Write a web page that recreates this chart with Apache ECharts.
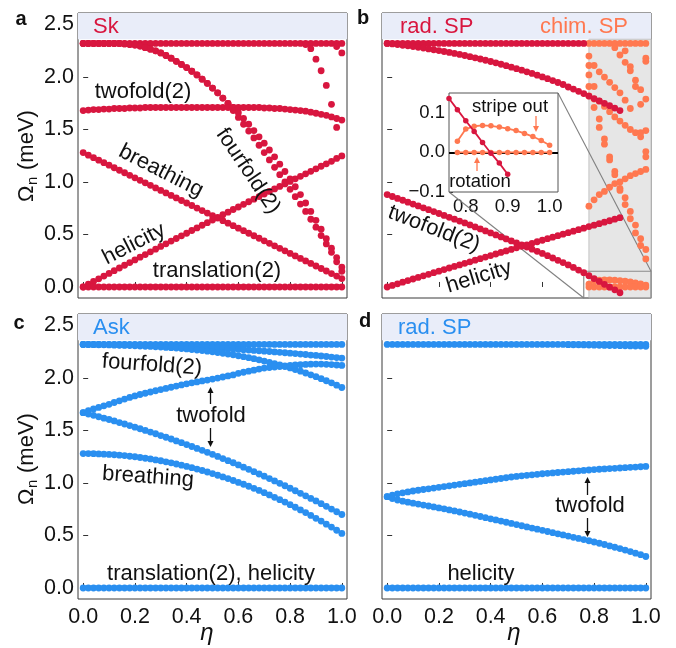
<!DOCTYPE html>
<html><head><meta charset="utf-8">
<script src="https://cdn.jsdelivr.net/npm/echarts@6/dist/echarts.min.js"></script>
<style>html,body{margin:0;padding:0;background:#fff}#c{width:676px;height:648px}</style>
</head><body><div id="c"></div>
<script>
// ---------- data ----------
const eta = [0,0.02,0.04,0.06,0.08,0.1,0.12,0.14,0.16,0.18,0.2,0.22,0.24,0.26,0.28,0.3,0.32,0.34,0.36,0.38,0.4,0.42,0.44,0.46,0.48,0.5,0.52,0.54,0.56,0.58,0.6,0.62,0.64,0.66,0.68,0.7,0.72,0.74,0.76,0.78,0.8,0.82,0.84,0.86,0.88,0.9,0.92,0.94,0.96,0.98,1.0];
const etaChim = [0.78,0.8,0.82,0.84,0.86,0.88,0.9,0.92,0.94,0.96,0.98,1.0];
const etaD = [0.7,0.72,0.74,0.76,0.78,0.8,0.82,0.84,0.86,0.88,0.9,0.92,0.94,0.96,0.98,1.0];
const xTicks = [0,0.2,0.4,0.6,0.8,1.0];
const xMinor = [0.1,0.3,0.5,0.7,0.9];
const yTicks = [0,0.5,1.0,1.5,2.0,2.5];
const insetXTicks = [0.8,0.9,1.0];
const insetXMinor = [0.85,0.95];
const insetYTicks = [-0.1,0,0.1];

const topLine = [2.32,2.32,2.32,2.32,2.32,2.32,2.32,2.32,2.32,2.32,2.32,2.32,2.32,2.32,2.32,2.32,2.32,2.32,2.32,2.32,2.32,2.32,2.32,2.32,2.32,2.32,2.32,2.32,2.32,2.32,2.32,2.32,2.32,2.32,2.32,2.32,2.32,2.32,2.32,2.32,2.32,2.32,2.32,2.32,2.32,2.32,2.32,2.32,2.32,2.32,2.32];
const zeroLine = [0,0,0,0,0,0,0,0,0,0,0,0,0,0,0,0,0,0,0,0,0,0,0,0,0,0,0,0,0,0,0,0,0,0,0,0,0,0,0,0,0,0,0,0,0,0,0,0,0,0,0];

// panel a (Sk)
const aFourA = [2.32,2.32,2.32,2.32,2.32,2.32,2.32,2.32,2.315,2.31,2.305,2.295,2.28,2.265,2.25,2.23,2.205,2.18,2.15,2.12,2.09,2.055,2.02,1.98,1.94,1.895,1.85,1.80,1.75,1.68,1.615,1.55,1.485,1.42,1.35,1.28,1.21,1.14,1.07,1.0,0.93,0.86,0.79,0.72,0.645,0.57,0.49,0.41,0.33,0.24,0.15];
const aFourB = [2.32,2.32,2.32,2.32,2.32,2.32,2.32,2.32,2.315,2.31,2.305,2.295,2.28,2.265,2.25,2.23,2.205,2.18,2.15,2.12,2.09,2.055,2.02,1.98,1.94,1.895,1.85,1.80,1.75,1.71,1.66,1.605,1.55,1.49,1.43,1.37,1.305,1.24,1.17,1.10,1.03,0.955,0.88,0.80,0.72,0.635,0.55,0.46,0.37,0.28,0.19];
const aSteepEta = [0.86,0.88,0.9,0.92,0.94,0.96,0.98,0.98,1.0];
const aSteep = [2.31,2.27,2.17,2.06,1.92,1.74,1.52,2.29,2.23];
const aTwo = [1.68,1.685,1.69,1.69,1.695,1.695,1.70,1.70,1.70,1.705,1.705,1.705,1.71,1.71,1.71,1.71,1.71,1.71,1.71,1.71,1.71,1.71,1.71,1.71,1.71,1.71,1.71,1.71,1.71,1.71,1.71,1.71,1.71,1.71,1.71,1.705,1.705,1.70,1.70,1.695,1.69,1.685,1.68,1.675,1.665,1.655,1.645,1.635,1.62,1.605,1.59];
const aBreath = [1.28,1.256,1.232,1.208,1.184,1.16,1.136,1.112,1.088,1.064,1.04,1.016,0.992,0.968,0.944,0.92,0.896,0.872,0.848,0.824,0.80,0.776,0.752,0.728,0.704,0.68,0.656,0.632,0.608,0.584,0.56,0.536,0.512,0.488,0.464,0.44,0.416,0.392,0.368,0.344,0.32,0.296,0.272,0.248,0.224,0.20,0.176,0.152,0.128,0.104,0.08];
const aHel = [0,0.026,0.052,0.078,0.104,0.129,0.155,0.181,0.207,0.232,0.258,0.284,0.309,0.335,0.36,0.386,0.411,0.437,0.462,0.487,0.512,0.538,0.563,0.588,0.613,0.638,0.663,0.688,0.713,0.738,0.762,0.787,0.812,0.836,0.861,0.885,0.91,0.934,0.958,0.982,1.006,1.03,1.054,1.078,1.102,1.126,1.15,1.173,1.197,1.225,1.248];

// panel b (rad. SP, chim. SP)
const bDesc = [2.32,2.315,2.309,2.303,2.297,2.29,2.283,2.276,2.268,2.26,2.252,2.243,2.234,2.225,2.215,2.205,2.194,2.183,2.172,2.16,2.148,2.135,2.122,2.108,2.094,2.08,2.065,2.05,2.034,2.018,2.001,1.984,1.966,1.948,1.929,1.905,1.885,1.864,1.842,1.819,1.795,1.772,1.75,1.727,1.704,1.68];
const bTwo = [0.88,0.862,0.844,0.826,0.808,0.79,0.772,0.754,0.736,0.718,0.70,0.682,0.664,0.646,0.628,0.61,0.591,0.572,0.553,0.534,0.515,0.496,0.477,0.458,0.439,0.42,0.40,0.38,0.36,0.34,0.32,0.298,0.276,0.254,0.232,0.21,0.186,0.161,0.136,0.108,0.08,0.053,0.025,-0.002,-0.027,-0.055];
const bHel = [0,0.015,0.03,0.046,0.061,0.076,0.091,0.106,0.121,0.136,0.151,0.166,0.181,0.196,0.21,0.225,0.24,0.255,0.27,0.285,0.299,0.314,0.329,0.343,0.358,0.373,0.387,0.402,0.416,0.431,0.445,0.46,0.474,0.489,0.503,0.517,0.532,0.546,0.56,0.575,0.589,0.603,0.617,0.631,0.646,0.66];
const chimTop = [2.32,2.32,2.32,2.32,2.32,2.32,2.32,2.32,2.32,2.32,2.32,2.32];
const chimStripe = [0.028,0.059,0.066,0.068,0.067,0.064,0.06,0.055,0.048,0.04,0.03,0.018];
const chimRot = [0,0,0,0,0,0,0,0,0,0,0,0];
const chimUpper = [[0.78,2.20],[0.78,2.11],[0.80,2.11],[0.78,2.02],[0.78,1.91],[0.80,1.91],[0.82,2.05],[0.84,2.00],[0.86,1.95],[0.88,1.90],[0.90,1.85],[0.92,1.78],[0.94,1.70],[0.88,2.28],[0.90,2.21],[0.92,2.25],[0.92,2.14],[0.94,2.10],[0.94,2.06],[0.96,1.97],[0.96,1.91],[0.98,1.88],[1.0,2.18],[1.0,2.15],[1.0,1.79],[0.98,1.74]];
const chimMiddle = [[0.78,1.82],[0.80,1.79],[0.82,1.77],[0.84,1.72],[0.86,1.67],[0.88,1.62],[0.90,1.58],[0.92,1.54],[0.94,1.50],[0.96,1.47],[0.98,1.47],[1.0,1.49],[0.98,1.43],[0.80,1.71],[0.82,1.60],[0.82,1.52],[0.84,1.41],[0.84,1.36],[0.86,1.24],[0.86,1.21],[1.0,1.29],[1.0,1.24],[0.88,1.10],[0.88,1.07]];
const chimLower = [[0.78,0.77],[0.80,0.83],[0.82,0.88],[0.84,0.91],[0.86,0.95],[0.88,0.985],[0.90,1.0],[0.92,1.03],[0.94,1.06],[0.96,1.08],[0.98,1.10],[1.0,1.12],[0.90,0.94],[0.90,0.92],[0.92,0.85],[0.92,0.785],[0.94,0.72],[0.94,0.65],[0.96,0.59],[0.96,0.515],[0.98,0.46],[0.98,0.395],[1.0,0.357],[1.0,0.267]];

// panel c (Ask)
const cF1 = [2.32,2.32,2.32,2.32,2.319,2.319,2.318,2.317,2.317,2.316,2.315,2.314,2.313,2.311,2.31,2.308,2.307,2.305,2.303,2.301,2.299,2.297,2.295,2.292,2.29,2.288,2.285,2.282,2.279,2.276,2.273,2.27,2.267,2.263,2.26,2.256,2.253,2.249,2.245,2.241,2.237,2.233,2.228,2.224,2.219,2.215,2.21,2.205,2.2,2.195,2.19];
const cF3 = [2.32,2.319,2.318,2.317,2.316,2.315,2.313,2.312,2.311,2.309,2.307,2.305,2.303,2.301,2.298,2.295,2.292,2.289,2.286,2.281,2.277,2.272,2.267,2.262,2.256,2.25,2.243,2.236,2.229,2.221,2.212,2.203,2.194,2.184,2.173,2.162,2.15,2.137,2.124,2.11,2.096,2.081,2.065,2.048,2.031,2.013,1.994,1.974,1.954,1.932,1.91];
const cTwoUp = [1.67,1.69,1.705,1.72,1.735,1.75,1.767,1.783,1.80,1.815,1.83,1.843,1.855,1.867,1.879,1.89,1.901,1.912,1.923,1.934,1.945,1.954,1.963,1.972,1.981,1.99,2.0,2.01,2.02,2.03,2.045,2.055,2.065,2.075,2.085,2.095,2.10,2.105,2.11,2.115,2.12,2.124,2.127,2.13,2.132,2.133,2.133,2.131,2.128,2.124,2.12];
const cTwoDn = [1.67,1.657,1.645,1.631,1.618,1.605,1.591,1.576,1.562,1.547,1.532,1.517,1.501,1.485,1.469,1.452,1.436,1.419,1.401,1.384,1.366,1.348,1.329,1.311,1.292,1.273,1.253,1.233,1.213,1.193,1.172,1.151,1.130,1.108,1.086,1.065,1.042,1.020,0.997,0.974,0.950,0.926,0.902,0.878,0.853,0.829,0.803,0.778,0.752,0.726,0.70];
const cBreath = [1.28,1.28,1.279,1.277,1.275,1.272,1.269,1.265,1.261,1.255,1.25,1.243,1.236,1.229,1.22,1.212,1.202,1.192,1.181,1.17,1.158,1.146,1.133,1.119,1.105,1.09,1.074,1.058,1.042,1.024,1.006,0.988,0.969,0.949,0.929,0.908,0.886,0.864,0.841,0.818,0.794,0.769,0.744,0.718,0.691,0.664,0.637,0.608,0.58,0.55,0.52];

// panel d (rad. SP)
const dTopLo = [2.318,2.317,2.316,2.315,2.314,2.313,2.312,2.311,2.31,2.309,2.308,2.307,2.306,2.305,2.304,2.303];
const dTwoUp = [0.87,0.885,0.897,0.906,0.915,0.924,0.931,0.938,0.945,0.952,0.959,0.966,0.973,0.98,0.987,0.994,1.001,1.008,1.015,1.022,1.029,1.036,1.043,1.05,1.057,1.063,1.068,1.073,1.078,1.083,1.088,1.092,1.096,1.1,1.104,1.108,1.112,1.116,1.12,1.124,1.128,1.131,1.134,1.137,1.14,1.143,1.146,1.149,1.152,1.155,1.158];
const dTwoDn = [0.87,0.852,0.838,0.827,0.817,0.808,0.799,0.79,0.781,0.772,0.763,0.754,0.744,0.734,0.724,0.714,0.703,0.692,0.681,0.67,0.659,0.648,0.637,0.626,0.615,0.604,0.593,0.582,0.571,0.56,0.549,0.538,0.527,0.516,0.505,0.494,0.483,0.472,0.461,0.45,0.438,0.426,0.414,0.401,0.388,0.375,0.361,0.347,0.332,0.317,0.30];

// ---------- styling ----------
const RED = '#d8163f', SAL = '#ff7850', BLUE = '#2a8ff0';
const FONT = '"Liberation Sans", Arial, sans-serif';
const X_RANGE = [-0.02, 1.02], Y_RANGE = [-0.105, 2.61];
const INSET_X = [0.76, 1.02], INSET_Y = [-0.1, 0.15];
const BAND_LOW = 2.36, CHIM_START = 0.78;
const grids = [
  {left:78, top:13, width:269, height:285},
  {left:382, top:13, width:269, height:285},
  {left:78, top:314, width:269, height:285},
  {left:382, top:314, width:269, height:285},
  {left:449, top:93, width:109, height:99}
];
const pts = (xs, ys) => ys.map((y, i) => [xs[i], y]);
const fmt = v => (v < 0 ? '\u2212' : '') + Math.abs(v).toFixed(1);

const xAxes = [], yAxes = [];
grids.forEach((g, gi) => {
  const inset = gi === 4;
  const rng = inset ? INSET_X : X_RANGE;
  const showLab = gi === 2 || gi === 3 || inset;
  const fs = inset ? 18.5 : 21.5;
  xAxes.push({type:'value', gridIndex:gi, min:rng[0], max:rng[1],
    axisLine:{show:false}, splitLine:{show:false},
    axisTick:{show:true, inside:true, length: inset?4:5, customValues: inset?insetXTicks:xTicks, lineStyle:{color:'#333', width:1}},
    axisLabel:{show:showLab, customValues: inset?insetXTicks:xTicks, formatter:fmt, fontSize:fs, fontFamily:FONT, color:'#111', margin: inset?5:7}
  });
  xAxes.push({type:'value', gridIndex:gi, min:rng[0], max:rng[1],
    axisLine:{show:false}, splitLine:{show:false},
    axisTick:{show:true, inside:true, length: inset?2.5:3, customValues: inset?insetXMinor:xMinor, lineStyle:{color:'#333', width:1}},
    axisLabel:{show:false}
  });
  const yr = inset ? INSET_Y : Y_RANGE;
  const showY = gi === 0 || gi === 2 || inset;
  yAxes.push({type:'value', gridIndex:gi, min:yr[0], max:yr[1],
    axisLine:{show:false}, splitLine:{show:false},
    axisTick:{show:true, inside:true, length: inset?4:5, customValues: inset?insetYTicks:yTicks, lineStyle:{color:'#333', width:1}},
    axisLabel:{show:showY, customValues: inset?insetYTicks:yTicks, formatter:fmt, fontSize:fs, fontFamily:FONT, color:'#111', margin: inset?4:4}
  });
});

function sc(gi, data, color, z, size) {
  return {type:'scatter', xAxisIndex:gi*2, yAxisIndex:gi, data:data, symbolSize:size||6.8,
    itemStyle:{color:color, opacity:1}, z:z||3, silent:true, clip:true};
}
function bg(gi, areas) {
  return {type:'scatter', xAxisIndex:gi*2, yAxisIndex:gi, data:[], z:1, silent:true,
    markArea:{silent:true, data:areas}};
}
const band = [{xAxis:X_RANGE[0], yAxis:BAND_LOW, itemStyle:{color:'#e9edf9'}}, {xAxis:X_RANGE[1], yAxis:Y_RANGE[1]}];

const series = [
  bg(0, [band]), bg(2, [band]), bg(3, [band]),
  bg(1, [band,
    [{xAxis:CHIM_START, yAxis:Y_RANGE[0], itemStyle:{color:'#e6e6e6', borderColor:'#c4c4c4', borderWidth:1}}, {xAxis:X_RANGE[1], yAxis:BAND_LOW}],
    [{xAxis:INSET_X[0], yAxis:Y_RANGE[0], itemStyle:{color:'rgba(0,0,0,0)', borderColor:'#8a8a8a', borderWidth:1.2}}, {xAxis:INSET_X[1], yAxis:INSET_Y[1]}]
  ]),
  // a
  sc(0, pts(eta, topLine), RED), sc(0, pts(eta, aFourA), RED), sc(0, pts(eta, aFourB), RED),
  sc(0, pts(aSteepEta, aSteep), RED), sc(0, pts(eta, aTwo), RED), sc(0, pts(eta, aBreath), RED),
  sc(0, pts(eta, aHel), RED), sc(0, pts(eta, zeroLine), RED),
  // b salmon
  sc(1, pts(etaChim, chimTop), SAL), sc(1, chimUpper, SAL), sc(1, chimMiddle, SAL), sc(1, chimLower, SAL),
  sc(1, pts(etaChim, chimStripe), SAL), sc(1, pts(etaChim, chimRot), SAL),
  // b crimson
  sc(1, pts(eta, topLine.slice(0, 39)), RED, 4), sc(1, pts(eta, bDesc), RED, 4),
  sc(1, pts(eta, bTwo), RED, 4), sc(1, pts(eta, bHel), RED, 4),
  // c
  sc(2, pts(eta, topLine), BLUE), sc(2, pts(eta, cF1), BLUE), sc(2, pts(eta, cF3), BLUE),
  sc(2, pts(eta, cTwoUp), BLUE), sc(2, pts(eta, cTwoDn), BLUE), sc(2, pts(eta, cBreath), BLUE),
  sc(2, pts(eta, zeroLine), BLUE),
  // d
  sc(3, pts(eta, topLine), BLUE), sc(3, pts(etaD, dTopLo), BLUE),
  sc(3, pts(eta, dTwoUp), BLUE), sc(3, pts(eta, dTwoDn), BLUE), sc(3, pts(eta, zeroLine), BLUE),
  // inset
  {type:'line', xAxisIndex:8, yAxisIndex:4, data:[], z:5, silent:true,
    markLine:{silent:true, symbol:['none','none'], label:{show:false}, lineStyle:{color:'#000', width:2, type:'solid'}, data:[{yAxis:0}]}},
  {type:'line', xAxisIndex:8, yAxisIndex:4, data:pts(etaChim, chimRot), z:6, silent:true, clip:true,
    symbol:'circle', symbolSize:5.5, showSymbol:true, lineStyle:{color:SAL, width:1.8}, itemStyle:{color:SAL}},
  {type:'line', xAxisIndex:8, yAxisIndex:4, data:pts(etaChim, chimStripe), z:6, silent:true, clip:true,
    symbol:'circle', symbolSize:5.5, showSymbol:true, lineStyle:{color:SAL, width:1.8}, itemStyle:{color:SAL}},
  {type:'line', xAxisIndex:8, yAxisIndex:4, data:pts(eta, bTwo), z:7, silent:true, clip:true,
    symbol:'circle', symbolSize:5.5, showSymbol:true, lineStyle:{color:RED, width:1.8}, itemStyle:{color:RED}}
];

const chart = echarts.init(document.getElementById('c'), null, {renderer:'canvas'});
chart.setOption({
  animation:false,
  backgroundColor:'#fff',
  grid: grids.map((g, gi) => Object.assign({show:true, borderColor: gi===4?'#555':'#3a3a3a', borderWidth:1,
    backgroundColor: gi===4 ? '#fff' : 'transparent', z: gi===4 ? 4 : 0}, g)),
  xAxis: xAxes, yAxis: yAxes, series: series
});

// ---------- annotations ----------
const els = [];
function txt(s, x, y, opt) {
  opt = opt || {};
  els.push({type:'text', x:x, y:y, rotation:(opt.rot||0)*Math.PI/180, z:20, silent:true,
    style:{text:s, fill:opt.color||'#111', font:(opt.weight||'normal')+' '+(opt.style||'normal')+' '+(opt.size||22)+'px '+FONT,
      align:opt.align||'center', verticalAlign:'middle'}});
}
function arrow(x, y0, y1, color) {
  const dir = y1 > y0 ? 1 : -1, head = 6;
  els.push({type:'line', z:20, silent:true, shape:{x1:x, y1:y0, x2:x, y2:y1 - dir*head}, style:{stroke:color, lineWidth:1.3}});
  els.push({type:'polygon', z:20, silent:true, shape:{points:[[x-3, y1-dir*head],[x+3, y1-dir*head],[x, y1]]}, style:{fill:color}});
}
function omega(x, y) {
  els.push({type:'group', x:x, y:y, rotation:Math.PI/2, z:20, silent:true, children:[
    {type:'text', style:{text:'\u03A9', x:-47, y:0, font:'22px '+FONT, fill:'#111', align:'left', verticalAlign:'middle'}},
    {type:'text', style:{text:'n', x:-30, y:6, font:'15px '+FONT, fill:'#111', align:'left', verticalAlign:'middle'}},
    {type:'text', style:{text:'(meV)', x:-15, y:0, font:'22px '+FONT, fill:'#111', align:'left', verticalAlign:'middle'}}
  ]});
}
// panel letters
txt('a', 21, 19, {weight:'bold', size:20}); txt('b', 363, 18, {weight:'bold', size:20});
txt('c', 19, 323, {weight:'bold', size:20}); txt('d', 365, 321, {weight:'bold', size:20});
// axis titles
omega(27, 155); omega(27, 458);
txt('\u03B7', 207, 633, {style:'italic', size:24}); txt('\u03B7', 514, 633, {style:'italic', size:24});
// panel a
txt('Sk', 93, 27, {color:RED, align:'left'});
txt('twofold(2)', 143, 92);
txt('fourfold(2)', 248, 171, {rot:-56, size:21.5});
txt('breathing', 161, 171, {rot:-27});
txt('helicity', 134, 244, {rot:27});
txt('translation(2)', 217, 271);
// panel b
txt('rad. SP', 400, 27, {color:RED, align:'left'});
txt('chim. SP', 540, 27, {color:SAL, align:'left'});
txt('twofold(2)', 434, 229, {rot:-21});
txt('helicity', 479, 277, {rot:17});
txt('stripe out', 510, 107, {size:18.5});
txt('rotation', 480, 182, {size:18.5});
arrow(536, 116, 132, SAL);
arrow(477, 171, 157, SAL);
// panel c
txt('Ask', 93, 328, {color:BLUE, align:'left'});
txt('fourfold(2)', 152, 365, {rot:-4});
txt('twofold', 211, 416);
txt('breathing', 148, 477, {rot:-4});
txt('translation(2), helicity', 211, 574);
arrow(210.5, 404, 387, '#111');
arrow(210.5, 428, 447, '#111');
// panel d
txt('rad. SP', 398, 328, {color:BLUE, align:'left'});
txt('twofold', 590, 506);
txt('helicity', 481, 574);
arrow(587.5, 495, 477, '#111');
arrow(587.5, 518, 537, '#111');
// inset connectors
const ig = grids[4];
const boxTR = chart.convertToPixel({xAxisIndex:2, yAxisIndex:1}, [INSET_X[1], INSET_Y[1]]);
const boxBL = chart.convertToPixel({xAxisIndex:2, yAxisIndex:1}, [INSET_X[0], Y_RANGE[0]]);
els.push({type:'line', z:2, silent:true, shape:{x1:ig.left+ig.width, y1:ig.top, x2:boxTR[0], y2:boxTR[1]}, style:{stroke:'#808080', lineWidth:1.1}});
els.push({type:'line', z:2, silent:true, shape:{x1:ig.left, y1:ig.top+ig.height, x2:boxBL[0], y2:boxBL[1]}, style:{stroke:'#808080', lineWidth:1.1}});

chart.setOption({graphic: els});
</script></body></html>
